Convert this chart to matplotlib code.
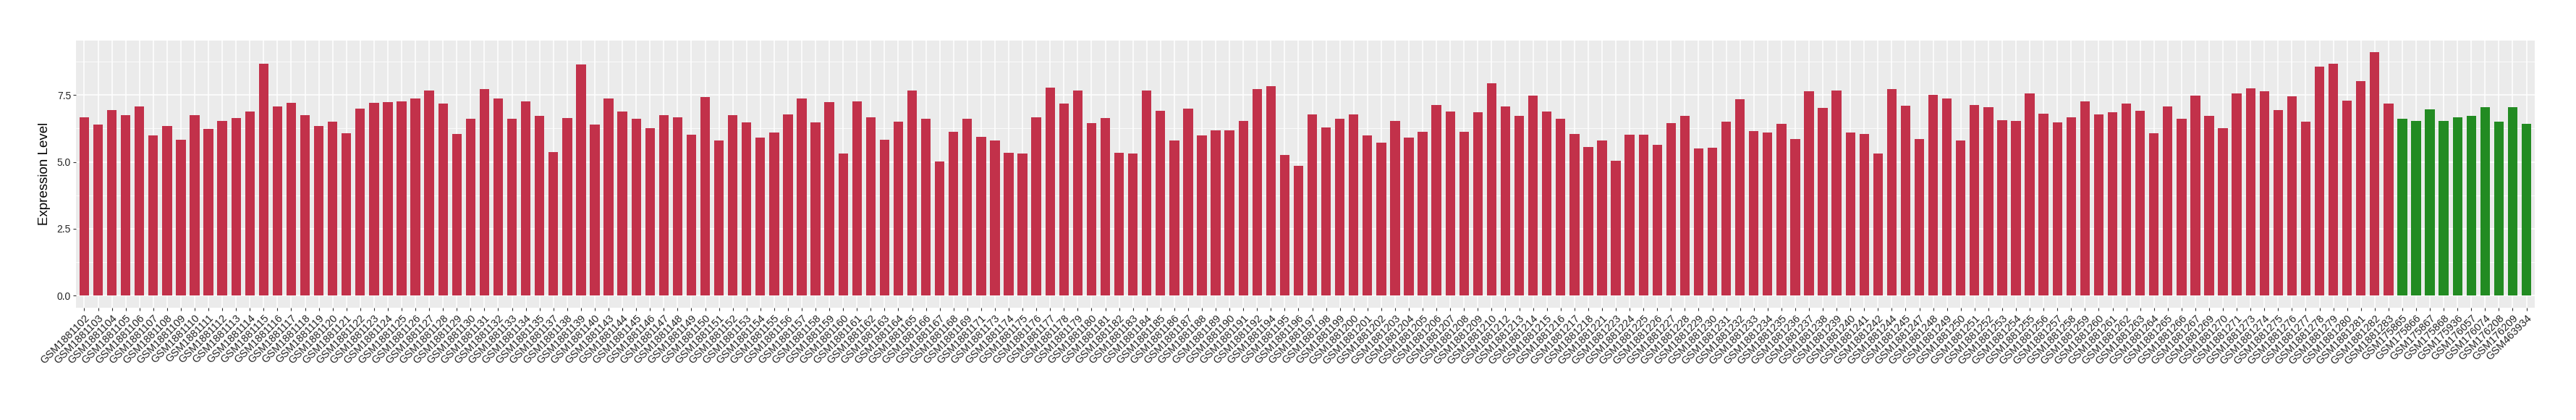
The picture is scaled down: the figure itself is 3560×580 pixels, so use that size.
import matplotlib
matplotlib.use("Agg")
import matplotlib.pyplot as plt
from matplotlib.ticker import FixedLocator

plt.rcParams['font.family'] = ['Liberation Sans', 'DejaVu Sans']

# tumour samples (red)
tumor_ids = [
    1881102, 1881103, 1881104, 1881105, 1881106, 1881107, 1881108, 1881109, 1881110, 1881111,
    1881112, 1881113, 1881114, 1881115, 1881116, 1881117, 1881118, 1881119, 1881120, 1881121,
    1881122, 1881123, 1881124, 1881125, 1881126, 1881127, 1881128, 1881129, 1881130, 1881131,
    1881132, 1881133, 1881134, 1881135, 1881137, 1881138, 1881139, 1881140, 1881143, 1881144,
    1881145, 1881146, 1881147, 1881148, 1881149, 1881150, 1881151, 1881152, 1881153, 1881154,
    1881155, 1881156, 1881157, 1881158, 1881159, 1881160, 1881161, 1881162, 1881163, 1881164,
    1881165, 1881166, 1881167, 1881168, 1881169, 1881171, 1881173, 1881174, 1881175, 1881176,
    1881177, 1881178, 1881179, 1881180, 1881181, 1881182, 1881183, 1881184, 1881185, 1881186,
    1881187, 1881188, 1881189, 1881190, 1881191, 1881192, 1881194, 1881195, 1881196, 1881197,
    1881198, 1881199, 1881200, 1881201, 1881202, 1881203, 1881204, 1881205, 1881206, 1881207,
    1881208, 1881209, 1881210, 1881212, 1881213, 1881214, 1881215, 1881216, 1881217, 1881218,
    1881221, 1881223, 1881224, 1881225, 1881226, 1881227, 1881228, 1881229, 1881230, 1881231,
    1881232, 1881233, 1881234, 1881235, 1881236, 1881237, 1881238, 1881239, 1881240, 1881241,
    1881242, 1881244, 1881245, 1881247, 1881248, 1881249, 1881250, 1881251, 1881252, 1881253,
    1881254, 1881255, 1881256, 1881257, 1881258, 1881259, 1881260, 1881261, 1881262, 1881263,
    1881264, 1881265, 1881266, 1881267, 1881269, 1881270, 1881271, 1881273, 1881274, 1881275,
    1881276, 1881277, 1881278, 1881279, 1881280, 1881281, 1881282, 1881283,
]
tumor_vals = [
    6.66, 6.40, 6.94, 6.76, 7.06, 5.99, 6.35, 5.83, 6.76, 6.24,
    6.52, 6.63, 6.88, 8.68, 7.06, 7.21, 6.76, 6.33, 6.50, 6.06,
    6.99, 7.20, 7.24, 7.27, 7.38, 7.68, 7.17, 6.04, 6.60, 7.73,
    7.38, 6.60, 7.27, 6.73, 5.37, 6.63, 8.63, 6.40, 7.38, 6.88,
    6.60, 6.27, 6.76, 6.66, 6.01, 7.42, 5.81, 6.76, 6.48, 5.91,
    6.09, 6.78, 7.38, 6.48, 7.24, 5.30, 7.27, 6.66, 5.83, 6.50,
    7.68, 6.60, 5.01, 6.12, 6.60, 5.94, 5.79, 5.35, 5.32, 6.66,
    7.78, 7.17, 7.66, 6.45, 6.63, 5.35, 5.32, 7.68, 6.91, 5.79,
    6.99, 5.99, 6.17, 6.19, 6.52, 7.71, 7.83, 5.25, 4.86, 6.78,
    6.30, 6.60, 6.78, 5.99, 5.73, 6.52, 5.91, 6.12, 7.12, 6.88,
    6.12, 6.86, 7.93, 7.06, 6.73, 7.48, 6.88, 6.60, 6.04, 5.55,
    5.81, 5.04, 6.01, 6.01, 5.63, 6.45, 6.73, 5.50, 5.53, 6.50,
    7.35, 6.15, 6.09, 6.42, 5.86, 7.63, 7.02, 7.66, 6.09, 6.04,
    5.32, 7.73, 7.09, 5.86, 7.50, 7.38, 5.81, 7.12, 7.04, 6.55,
    6.52, 7.56, 6.81, 6.48, 6.66, 7.27, 6.78, 6.86, 7.17, 6.91,
    6.06, 7.06, 6.60, 7.48, 6.73, 6.27, 7.56, 7.75, 7.63, 6.94,
    7.45, 6.50, 8.55, 8.68, 7.30, 8.01, 9.09, 7.17,
]

# normal samples (green)
normal_labels = ["GSM175865", "GSM175866", "GSM175867", "GSM175868", "GSM175936",
                 "GSM176057", "GSM176074", "GSM176208", "GSM176209", "GSM463934"]
normal_vals = [6.60, 6.52, 6.96, 6.52, 6.66, 6.73, 7.04, 6.50, 7.04, 6.42]

tumor_labels = ["GSM%d" % i for i in tumor_ids]
labels = tumor_labels + normal_labels
values = tumor_vals + normal_vals
colors = ["#C2314A"] * len(tumor_vals) + ["#228B22"] * len(normal_vals)
x = list(range(len(values)))

fig = plt.figure(figsize=(35.6, 5.8), dpi=100)
ax = fig.add_axes([105 / 3560, 155 / 580, (3503 - 105) / 3560, (425 - 55.7) / 580])
ax.set_facecolor("#EBEBEB")

ax.bar(x, values, width=0.7, color=colors, zorder=3)

ymax = max(values)
ax.set_ylim(-0.05 * ymax, 1.05 * ymax)
ax.set_xlim(-0.6, len(values) - 1 + 0.6)

ax.set_yticks([0, 2.5, 5, 7.5])
ax.set_yticklabels(["0.0", "2.5", "5.0", "7.5"])
ax.yaxis.set_minor_locator(FixedLocator([1.25, 3.75, 6.25, 8.75]))
ax.set_xticks(x)
ax.set_xticklabels(labels, rotation=45, ha="right", va="top", rotation_mode="anchor")

ax.grid(True, which="major", color="white", linewidth=1.1, zorder=0)
ax.grid(True, which="minor", axis="y", color="white", linewidth=0.55, zorder=0)
ax.tick_params(axis="both", which="major", length=3, width=0.8, color="#333333",
               labelcolor="#222222", labelsize=10, pad=2)
ax.tick_params(axis="x", labelsize=10.5)
ax.tick_params(axis="y", which="minor", length=0)
for s in ax.spines.values():
    s.set_visible(False)

ax.set_ylabel("Expression Level", fontsize=13.5, color="black", labelpad=6)

fig.savefig("out.png", dpi=100)
